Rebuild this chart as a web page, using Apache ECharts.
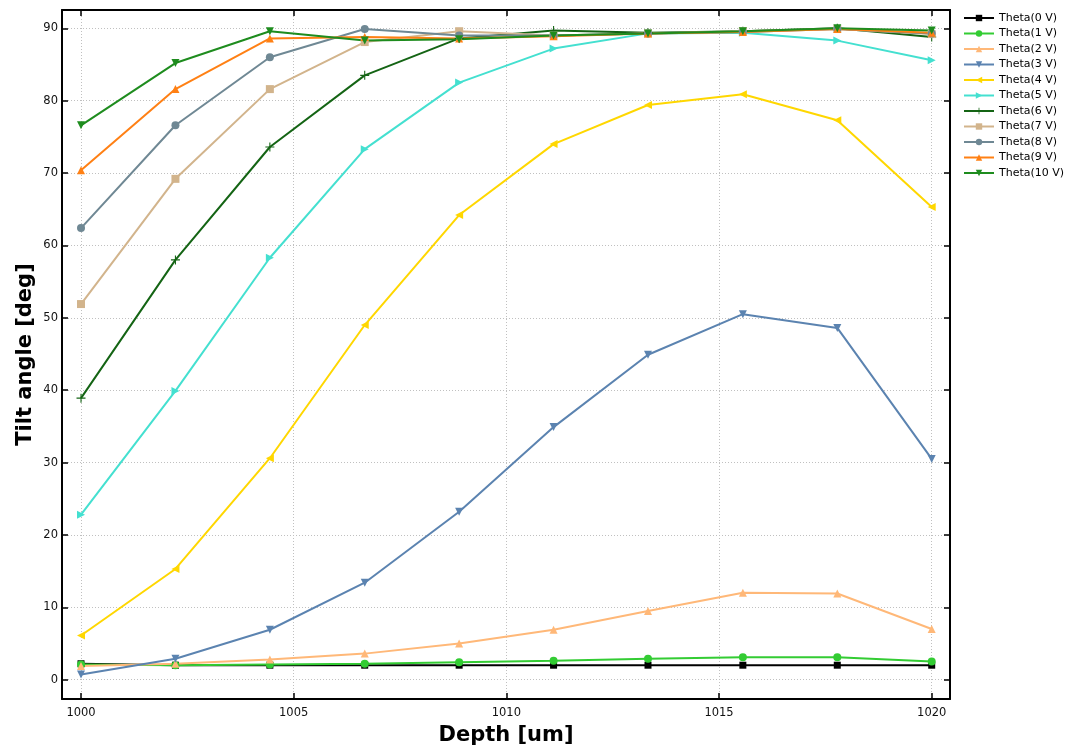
<!DOCTYPE html>
<html><head><meta charset="utf-8">
<script src="https://cdn.jsdelivr.net/npm/echarts@6/dist/echarts.min.js"></script>
<style>html,body{margin:0;padding:0;background:#fff}#c{width:1066px;height:751px}</style>
</head><body><div id="c"></div>
<script>
const depth = [1000, 1002.22, 1004.44, 1006.67, 1008.89, 1011.11, 1013.33, 1015.56, 1017.78, 1020];
const seriesNames = ['Theta(0 V)','Theta(1 V)','Theta(2 V)','Theta(3 V)','Theta(4 V)','Theta(5 V)','Theta(6 V)','Theta(7 V)','Theta(8 V)','Theta(9 V)','Theta(10 V)'];
const theta0  = [2.2, 2.0, 2.0, 2.0, 2.0, 2.0, 2.0, 2.0, 2.0, 2.0];
const theta1  = [2.1, 2.0, 2.1, 2.2, 2.4, 2.6, 2.9, 3.1, 3.1, 2.5];
const theta2  = [1.9, 2.2, 2.8, 3.6, 5.0, 6.9, 9.5, 12.0, 11.9, 7.0];
const theta3  = [0.7, 2.9, 6.9, 13.4, 23.2, 34.9, 44.9, 50.5, 48.6, 30.5];
const theta4  = [6.1, 15.3, 30.6, 49.0, 64.2, 74.0, 79.4, 80.9, 77.3, 65.3];
const theta5  = [22.8, 39.9, 58.3, 73.3, 82.5, 87.2, 89.3, 89.4, 88.3, 85.6];
const theta6  = [38.9, 58.0, 73.6, 83.5, 88.6, 89.7, 89.4, 89.6, 90.0, 88.8];
const theta7  = [51.9, 69.2, 81.6, 88.1, 89.6, 89.0, 89.3, 89.6, 89.9, 89.2];
const theta8  = [62.4, 76.6, 86.0, 89.9, 89.0, 89.0, 89.3, 89.5, 89.9, 89.3];
const theta9  = [70.4, 81.6, 88.6, 88.8, 88.6, 88.9, 89.3, 89.5, 89.9, 89.4];
const theta10 = [76.6, 85.2, 89.6, 88.3, 88.5, 89.0, 89.3, 89.6, 90.0, 89.7];
const xTicks = [1000, 1005, 1010, 1015, 1020];
const yTicks = [0, 10, 20, 30, 40, 50, 60, 70, 80, 90];

const allVals = [theta0, theta1, theta2, theta3, theta4, theta5, theta6, theta7, theta8, theta9, theta10];
const colors = ['#000000', '#33cc33', '#ffb878', '#5b83b0', '#ffd700', '#44e0d0', '#146414', '#d2b48c', '#6f8894', '#ff8014', '#1e8c1e'];
const plus = 'path://M-1,-0.12H1V0.12H-1Z M-0.12,-1H0.12V1H-0.12Z';
const symbols = ['rect', 'circle', 'triangle', 'triangle', 'triangle', 'triangle', plus, 'rect', 'circle', 'triangle', 'triangle'];
const rotates = [0, 0, 0, 180, 90, -90, 0, 0, 0, 0, 180];
const sizes = [7, 8, 8, 8, 8, 8, 9, 8, 8, 8, 8];

const X0 = 999.553, X1 = 1020.43, Y0 = -2.67, Y1 = 92.53;
const gridLine = {show: true, lineStyle: {color: '#c0c0c0', type: [1, 2], width: 1}};
const axisLineStyle = {show: true, onZero: false, lineStyle: {color: '#000', width: 2}};
const font = 'DejaVu Sans';

const chart = echarts.init(document.getElementById('c'), null, {renderer: 'canvas'});
chart.setOption({
  animation: false,
  backgroundColor: '#fff',
  grid: {left: 62, right: 116, top: 10, bottom: 52, containLabel: false, outerBoundsMode: 'none'},
  legend: {
    orient: 'vertical', left: 963, top: 11, padding: 0,
    itemWidth: 30, itemHeight: 8, itemGap: 1.5,
    textStyle: {fontFamily: font, fontSize: 11, color: '#000', lineHeight: 14},
    data: seriesNames
  },
  xAxis: [{
    type: 'value', min: X0, max: X1, position: 'bottom',
    name: 'Depth [um]', nameLocation: 'middle', nameGap: 26, nameMoveOverlap: false,
    nameTextStyle: {fontFamily: font, fontWeight: 'bold', fontSize: 21, color: '#000'},
    axisLine: axisLineStyle,
    axisTick: {show: true, inside: true, length: 6, customValues: xTicks, lineStyle: {color: '#000', width: 1.5}},
    axisLabel: {show: true, customValues: xTicks, margin: 8, fontFamily: font, fontSize: 11.5, color: '#111', formatter: v => String(Math.round(v))},
    splitLine: gridLine
  }, {
    type: 'value', min: X0, max: X1, position: 'top',
    axisLine: axisLineStyle,
    axisTick: {show: true, inside: true, length: 6, customValues: xTicks, lineStyle: {color: '#000', width: 1.5}},
    axisLabel: {show: false},
    splitLine: {show: false}
  }],
  yAxis: [{
    type: 'value', min: Y0, max: Y1, position: 'left',
    name: 'Tilt angle [deg]', nameLocation: 'middle', nameGap: 26, nameRotate: 90, nameMoveOverlap: false,
    nameTextStyle: {fontFamily: font, fontWeight: 'bold', fontSize: 21, color: '#000'},
    axisLine: axisLineStyle,
    axisTick: {show: true, inside: true, length: 6, customValues: yTicks, lineStyle: {color: '#000', width: 1.5}},
    axisLabel: {show: true, customValues: yTicks, margin: 4, fontFamily: font, fontSize: 11.5, color: '#111', formatter: v => String(Math.round(v))},
    splitLine: gridLine
  }, {
    type: 'value', min: Y0, max: Y1, position: 'right',
    axisLine: axisLineStyle,
    axisTick: {show: true, inside: true, length: 6, customValues: yTicks, lineStyle: {color: '#000', width: 1.5}},
    axisLabel: {show: false},
    splitLine: {show: false}
  }],
  series: allVals.map((vals, k) => ({
    name: seriesNames[k],
    type: 'line',
    xAxisIndex: 0, yAxisIndex: 0,
    data: depth.map((d, i) => [d, vals[i]]),
    symbol: symbols[k],
    symbolRotate: rotates[k],
    symbolSize: sizes[k],
    showAllSymbol: true,
    color: colors[k],
    itemStyle: {color: colors[k], borderWidth: 0},
    lineStyle: {color: colors[k], width: 2},
    emphasis: {disabled: true}
  }))
});
</script></body></html>
